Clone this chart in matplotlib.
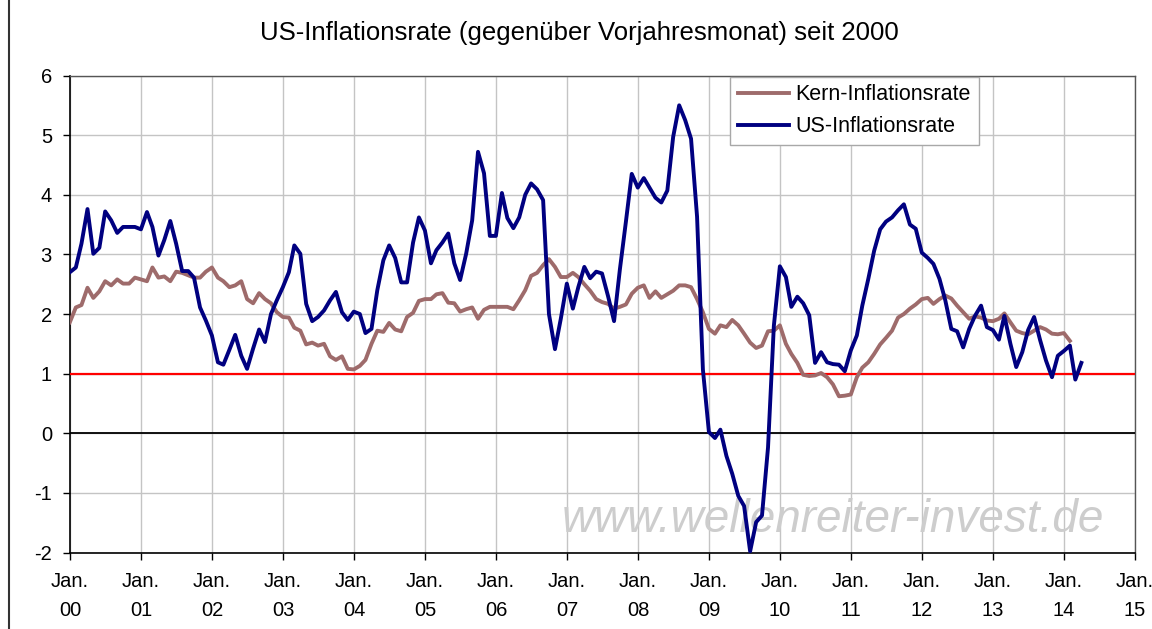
import datetime as dt

import matplotlib
matplotlib.use("Agg")
import matplotlib.pyplot as plt
from matplotlib.lines import Line2D
import pandas as pd

plt.rcParams["font.family"] = ["Liberation Sans", "DejaVu Sans"]
plt.rcParams["axes.unicode_minus"] = False

# year-over-year rates in %, one value per month, first value = Dec 1999
us_rate = [
    2.70, 2.78, 3.18, 3.76, 3.01, 3.11, 3.72, 3.57, 3.36, 3.46, 3.46, 3.46,
    3.42, 3.71, 3.46, 2.98, 3.24, 3.56, 3.18, 2.72, 2.72, 2.61, 2.11, 1.89,
    1.64, 1.19, 1.15, 1.40, 1.65, 1.30, 1.08, 1.42, 1.74, 1.53, 2.00, 2.23,
    2.45, 2.70, 3.15, 3.01, 2.17, 1.88, 1.95, 2.06, 2.23, 2.37, 2.03, 1.90,
    2.04, 2.00, 1.68, 1.75, 2.40, 2.90, 3.15, 2.94, 2.53, 2.53, 3.20, 3.62,
    3.40, 2.85, 3.07, 3.20, 3.35, 2.85, 2.57, 3.01, 3.57, 4.72, 4.36, 3.31,
    3.31, 4.03, 3.61, 3.44, 3.62, 4.00, 4.19, 4.09, 3.91, 2.00, 1.41, 1.92,
    2.51, 2.09, 2.45, 2.79, 2.60, 2.71, 2.68, 2.30, 1.88, 2.75, 3.55, 4.35,
    4.12, 4.28, 4.12, 3.95, 3.87, 4.07, 4.97, 5.50, 5.25, 4.94, 3.63, 1.07,
    0.02, -0.08, 0.06, -0.38, -0.68, -1.05, -1.22, -1.98, -1.49, -1.38, -0.24, 1.80,
    2.80, 2.62, 2.12, 2.29, 2.18, 1.98, 1.18, 1.36, 1.19, 1.16, 1.15, 1.04,
    1.39, 1.64, 2.14, 2.59, 3.06, 3.42, 3.55, 3.62, 3.74, 3.84, 3.50, 3.43,
    3.03, 2.94, 2.84, 2.59, 2.23, 1.75, 1.71, 1.44, 1.75, 1.97, 2.14, 1.78,
    1.73, 1.57, 1.97, 1.50, 1.11, 1.36, 1.73, 1.95, 1.56, 1.22, 0.94, 1.30,
    1.38, 1.47, 0.90, 1.18,
]

core_rate = [
    1.86, 2.11, 2.15, 2.44, 2.27, 2.38, 2.55, 2.48, 2.58, 2.51, 2.51, 2.61,
    2.58, 2.55, 2.78, 2.61, 2.63, 2.55, 2.71, 2.69, 2.65, 2.61, 2.61, 2.71,
    2.78, 2.61, 2.55, 2.45, 2.48, 2.55, 2.25, 2.18, 2.35, 2.25, 2.18, 2.03,
    1.95, 1.94, 1.77, 1.72, 1.49, 1.52, 1.47, 1.50, 1.29, 1.23, 1.29, 1.08,
    1.07, 1.13, 1.23, 1.50, 1.72, 1.70, 1.85, 1.74, 1.71, 1.95, 2.02, 2.22,
    2.25, 2.25, 2.33, 2.35, 2.19, 2.18, 2.04, 2.08, 2.11, 1.92, 2.07, 2.12,
    2.12, 2.12, 2.12, 2.08, 2.23, 2.40, 2.64, 2.69, 2.82, 2.92, 2.79, 2.62,
    2.62, 2.69, 2.62, 2.50, 2.39, 2.25, 2.20, 2.17, 2.09, 2.12, 2.16, 2.34,
    2.44, 2.48, 2.27, 2.38, 2.27, 2.33, 2.39, 2.48, 2.48, 2.45, 2.25, 2.03,
    1.75, 1.67, 1.81, 1.78, 1.90, 1.81, 1.67, 1.52, 1.43, 1.47, 1.71, 1.72,
    1.81, 1.50, 1.33, 1.18, 0.98, 0.96, 0.97, 1.01, 0.94, 0.82, 0.62, 0.63,
    0.65, 0.94, 1.10, 1.19, 1.33, 1.49, 1.60, 1.72, 1.94, 2.00, 2.09, 2.16,
    2.25, 2.27, 2.17, 2.25, 2.31, 2.26, 2.14, 2.03, 1.92, 1.96, 1.94, 1.89,
    1.88, 1.92, 2.01, 1.86, 1.72, 1.68, 1.66, 1.72, 1.78, 1.74, 1.67, 1.66,
    1.68, 1.55,
]

years = list(range(2000, 2016))
tick_labels = [f"Jan.\n{y % 100:02d}" for y in years]
y_ticks = list(range(-2, 7))

start = "1999-12-31"
us_dates = pd.date_range(start, periods=len(us_rate), freq=pd.offsets.MonthEnd()).to_pydatetime()
core_dates = pd.date_range(start, periods=len(core_rate), freq=pd.offsets.MonthEnd()).to_pydatetime()
year_ticks = [dt.datetime(y, 1, 1) for y in years]

W, H = 1152, 629
fig = plt.figure(figsize=(W / 100, H / 100), dpi=100)
ax = fig.add_axes([70 / W, 1 - 552.5 / H, 1065 / W, 477 / H])

ax.plot(core_dates, core_rate, color="#9E6B6B", lw=2.8, label="Kern-Inflationsrate", zorder=4)
ax.plot(us_dates, us_rate, color="#000080", lw=2.8, label="US-Inflationsrate", zorder=5)
ax.axhline(1, color="#FF0000", lw=1.6, zorder=3)
ax.axhline(0, color="black", lw=1.3, zorder=3)

ax.set_xlim(year_ticks[0], year_ticks[-1])
ax.set_ylim(-2, 6)
ax.set_yticks(y_ticks)
ax.set_xticks(year_ticks, tick_labels)
for lab in ax.get_xticklabels():
    lab.set_linespacing(1.65)

ax.set_axisbelow(True)
ax.grid(True, color="#C4C4C4", lw=1.0)
ax.tick_params(axis="both", labelsize=14.5, length=5, width=1, direction="out", colors="black")
ax.tick_params(axis="x", pad=9)
ax.tick_params(axis="y", pad=8)
for side in ("top", "right"):
    ax.spines[side].set_color("#555555")
    ax.spines[side].set_linewidth(1.0)
for side in ("left", "bottom"):
    ax.spines[side].set_color("black")
    ax.spines[side].set_linewidth(1.2)

ax.text(0.716, 0.068, "www.wellenreiter-invest.de", transform=ax.transAxes,
        ha="center", va="center", fontsize=33, style="italic", color="#CDCDCD", zorder=2)

leg = ax.legend(loc="upper left", bbox_to_anchor=(0.6197, 0.997), fontsize=15.5,
                fancybox=False, framealpha=1, edgecolor="#A8A8A8", borderaxespad=0,
                handlelength=2.4, handletextpad=0.3, labelspacing=0.5,
                borderpad=0.35)
leg.get_frame().set_linewidth(1.0)
leg.set_zorder(6)

fig.text(0.503, 1 - 33 / H, "US-Inflationsrate (gegenüber Vorjahresmonat) seit 2000",
         ha="center", va="center", fontsize=18.5)

fig.add_artist(Line2D([8.5 / W, 8.5 / W], [0, 1], color="#333333", lw=1.5))

fig.savefig("out.png", dpi=100)
